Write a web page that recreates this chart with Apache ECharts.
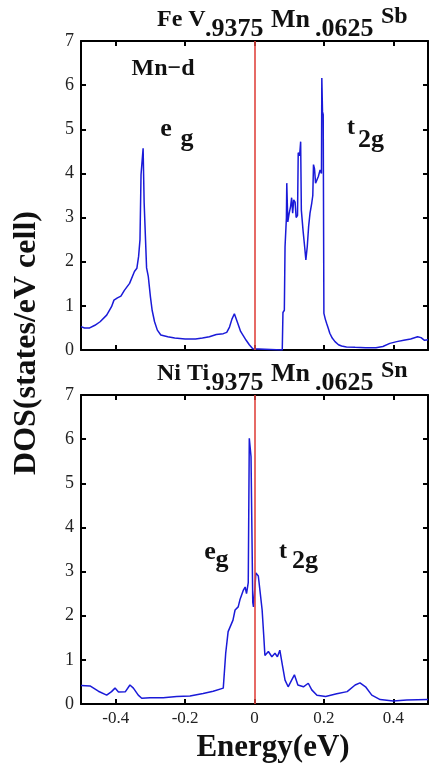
<!DOCTYPE html>
<html><head><meta charset="utf-8">
<script src="https://cdn.jsdelivr.net/npm/echarts@6/dist/echarts.min.js"></script>
<style>html,body{margin:0;padding:0;background:#fff}#c{width:430px;height:764px}</style>
</head><body><div id="c"></div>
<script>
// Top panel: FeV.9375Mn.0625Sb, Mn-d DOS
const energyTop = [-0.500,-0.490,-0.475,-0.460,-0.445,-0.426,-0.412,-0.405,-0.395,-0.385,-0.375,-0.360,-0.346,-0.339,-0.334,-0.330,-0.327,-0.322,-0.321,-0.318,-0.313,-0.311,-0.306,-0.300,-0.295,-0.288,-0.280,-0.270,-0.250,-0.230,-0.200,-0.170,-0.150,-0.130,-0.110,-0.090,-0.080,-0.072,-0.065,-0.058,-0.053,-0.047,-0.040,-0.032,-0.024,-0.015,-0.005,0.000,0.080,0.082,0.086,0.088,0.092,0.093,0.096,0.100,0.104,0.107,0.110,0.113,0.117,0.120,0.124,0.126,0.130,0.133,0.135,0.140,0.145,0.148,0.152,0.156,0.160,0.165,0.168,0.170,0.173,0.176,0.180,0.184,0.189,0.193,0.194,0.196,0.198,0.200,0.204,0.208,0.213,0.217,0.224,0.232,0.242,0.251,0.265,0.290,0.320,0.350,0.370,0.390,0.410,0.430,0.450,0.470,0.480,0.490,0.500];
const dosTop = [0.53,0.50,0.50,0.56,0.64,0.79,0.98,1.13,1.18,1.22,1.35,1.51,1.78,1.85,2.12,2.50,3.97,3.97,4.57,3.33,3.33,1.86,1.66,1.21,0.90,0.64,0.45,0.34,0.30,0.27,0.25,0.25,0.27,0.30,0.35,0.37,0.40,0.52,0.70,0.82,0.78,0.58,0.42,0.32,0.22,0.12,0.03,0.00,0.00,0.85,0.90,2.34,3.00,3.78,2.90,3.10,3.25,3.45,3.10,3.40,3.35,3.00,3.05,4.47,4.40,4.72,3.17,2.70,2.30,2.04,2.34,2.80,3.10,3.33,3.50,4.20,4.10,3.78,3.80,3.93,4.08,4.00,6.16,5.40,5.33,0.83,0.70,0.60,0.48,0.38,0.27,0.19,0.12,0.09,0.07,0.06,0.05,0.05,0.08,0.15,0.19,0.22,0.25,0.30,0.28,0.22,0.23];
// Bottom panel: NiTi.9375Mn.0625Sn
const energyBottom = [-0.500,-0.474,-0.450,-0.426,-0.412,-0.402,-0.392,-0.372,-0.359,-0.349,-0.335,-0.325,-0.301,-0.263,-0.224,-0.186,-0.148,-0.119,-0.090,-0.083,-0.076,-0.071,-0.062,-0.056,-0.047,-0.042,-0.032,-0.027,-0.023,-0.018,-0.015,-0.010,-0.007,-0.005,-0.003,0.000,0.004,0.011,0.016,0.022,0.027,0.030,0.040,0.050,0.059,0.066,0.073,0.081,0.088,0.097,0.107,0.115,0.125,0.141,0.155,0.165,0.180,0.205,0.237,0.267,0.290,0.304,0.320,0.338,0.362,0.400,0.439,0.500];
const dosBottom = [0.42,0.41,0.29,0.20,0.28,0.36,0.27,0.28,0.43,0.36,0.20,0.13,0.14,0.14,0.17,0.18,0.24,0.29,0.36,1.15,1.64,1.60,1.90,2.13,2.20,2.36,2.58,2.65,2.50,2.75,6.02,5.60,5.60,2.30,2.20,2.50,2.97,2.90,2.55,2.13,1.50,1.10,1.19,1.07,1.15,1.07,1.22,0.85,0.54,0.39,0.54,0.66,0.43,0.39,0.47,0.32,0.20,0.17,0.23,0.28,0.43,0.48,0.39,0.20,0.10,0.07,0.09,0.10];
const xTicks = [-0.4,-0.2,0,0.2,0.4];
const fermiLevel = 0;

const SERIF = '"Liberation Serif","DejaVu Serif",serif';
const BLUE = '#1a1ad8';
const RED = '#e0453f';

function pairs(xs, ys){ return xs.map((x,i)=>[x, ys[i]]); }

function xAxisDef(grid, pos, labels){
  return {type:'value', gridIndex:grid, position:pos, min:-0.5, max:0.5,
    axisLine:{show:true, onZero:false, lineStyle:{color:'#000', width:2}},
    axisTick:{show:true, inside:true, length:5, lineStyle:{color:'#000', width:2}, customValues:xTicks},
    axisLabel:{show:labels, customValues:xTicks, fontFamily:SERIF, fontSize:17, color:'#222', margin:6,
      formatter:v=> v===0 ? '0' : v.toFixed(1)},
    splitLine:{show:false}};
}
function yAxisDef(grid, pos, labels){
  return {type:'value', gridIndex:grid, position:pos, min:0, max:7, interval:1,
    axisLine:{show:true, onZero:false, lineStyle:{color:'#000', width:2}},
    axisTick:{show:true, inside:true, length:5, lineStyle:{color:'#000', width:2}},
    axisLabel:{show:labels, fontFamily:SERIF, fontSize:18, color:'#222', margin:7},
    splitLine:{show:false}};
}
function seriesDef(idx, xs, ys){
  return {type:'line', xAxisIndex:idx*2, yAxisIndex:idx*2, data:pairs(xs,ys), showSymbol:false,
    lineStyle:{color:BLUE, width:1.5}, animation:false, z:2,
    markLine:{silent:true, symbol:['none','none'], label:{show:false},
      lineStyle:{color:RED, width:1.6, type:'solid'}, data:[{xAxis:fermiLevel}], animation:false}};
}
function txt(text, x, y, size, extra, align){
  return Object.assign({type:'text', x:x, y:y, silent:true, style:{text:text, font:'bold '+size+'px '+SERIF,
    fill:'#111', textAlign:align||'center', textVerticalAlign:'middle'}}, extra||{});
}

const chart = echarts.init(document.getElementById('c'), null, {renderer:'canvas'});
chart.setOption({
  backgroundColor:'#fff',
  animation:false,
  grid:[{left:81, top:41, width:347, height:309},{left:81, top:395, width:347, height:309}],
  xAxis:[xAxisDef(0,'bottom',false), xAxisDef(0,'top',false), xAxisDef(1,'bottom',true), xAxisDef(1,'top',false)],
  yAxis:[yAxisDef(0,'left',true), yAxisDef(0,'right',false), yAxisDef(1,'left',true), yAxisDef(1,'right',false)],
  series:[seriesDef(0, energyTop, dosTop), seriesDef(1, energyBottom, dosBottom)],
  graphic:[
    // top title
    txt('Fe V', 157, 20, 24, null, 'left'), txt('.9375', 205, 29, 26, null, 'left'), txt('Mn', 271, 20, 26, null, 'left'),
    txt('.0625', 315, 29, 26, null, 'left'), txt('Sb', 381, 17, 24, null, 'left'),
    // bottom title
    txt('Ni Ti', 157, 374, 24, null, 'left'), txt('.9375', 205, 383, 26, null, 'left'), txt('Mn', 271, 374, 26, null, 'left'),
    txt('.0625', 315, 383, 26, null, 'left'), txt('Sn', 381, 371, 24, null, 'left'),
    // top annotations
    txt('Mn\u2212d', 163, 69, 24), txt('e', 166, 129, 26), txt('g', 187, 139, 26), txt('t', 351, 128, 24), txt('2g', 371, 140, 26),
    // bottom annotations
    txt('e', 210, 552, 26), txt('g', 222, 560, 26), txt('t', 283, 552, 24), txt('2g', 305, 561, 26),
    // axis titles
    txt('Energy(eV)', 273, 748, 31),
    txt('DOS(states/eV cell)', 27, 343, 32, {rotation:Math.PI/2})
  ]
});
</script>
</body></html>
